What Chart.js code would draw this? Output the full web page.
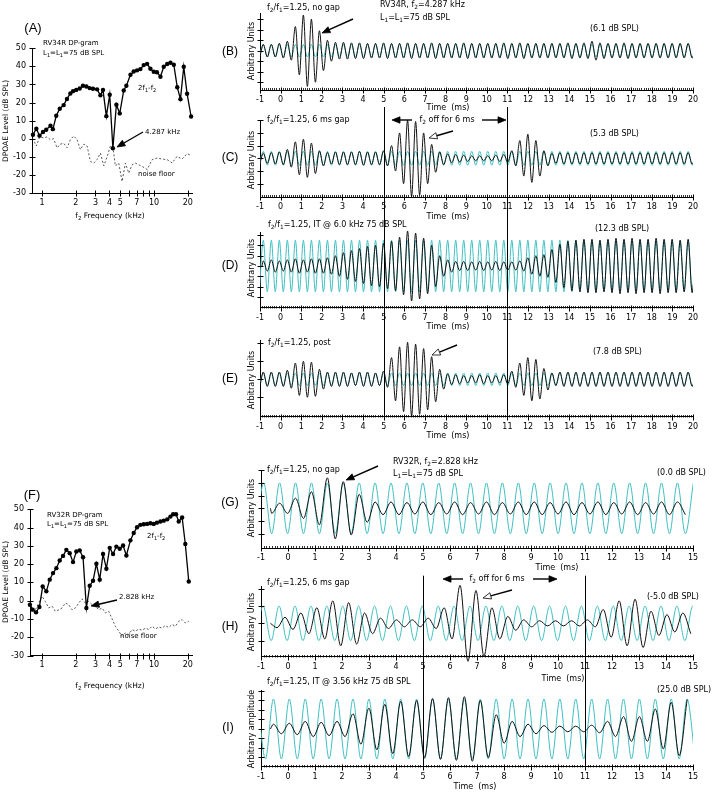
<!DOCTYPE html>
<html>
<head>
<meta charset="utf-8">
<script src="https://cdn.jsdelivr.net/npm/chart.js@4/dist/chart.umd.min.js"></script>
<style>
  body { margin: 0; background: #fff; }
  #wrap { position: relative; width: 721px; height: 792px; overflow: hidden; background: #fff; }
  #wrap canvas { position: absolute; }
</style>
</head>
<body>
<div id="wrap"></div>
<script>
// ---------- DP-gram data (kHz, dB SPL) ----------
const freqA = [0.83,0.89,0.95,1.02,1.09,1.19,1.25,1.34,1.44,1.56,1.67,1.79,1.89,2.02,2.17,2.32,2.49,2.66,2.85,3.10,3.32,3.50,3.75,4.02,4.29,4.61,4.94,5.36,5.66,6.16,6.58,7.05,7.55,8.08,8.66,9.27,9.93,10.6,11.4,12.2,13.1,14.0,15.0,16.1,17.2,18.4,19.7,21.4];
const levelA = [2.2,5.5,1.7,3.7,5.0,7.2,5.3,12.7,16.6,18.6,22.0,25.0,26.3,27.0,27.8,29.3,28.9,28.0,27.6,27.3,24.0,27.0,12.5,24.3,-5.3,18.8,14.0,26.7,29.3,35.4,37.2,37.8,38.5,40.7,41.4,38.7,37.0,36.8,34.3,39.8,41.3,42.0,40.9,28.5,21.9,39.8,24.9,12.3];
const noiseFreqA = [0.825,0.89,0.953,1.035,1.108,1.187,1.27,1.361,1.458,1.561,1.672,1.791,1.918,2.054,2.2,2.356,2.524,2.703,2.895,3.1,3.32,3.556,3.808,4.078,4.3,4.51,4.84,5.18,5.55,5.94,6.36,6.82,7.3,7.82,8.68,9.6,10.6,11.8,13.1,14.5,16.0,17.8,19.7,21.4];
const noiseA = [0.3,-4,1,0.5,1,-0.5,0,-5,-3,-2.5,-5,-0.5,1.5,-0.5,-6,-3,-4,-12.5,-13.5,-11.5,-8,-15,-10,-4,-5,-15,-13.5,-23.6,-13.5,-19,-14.4,-13.5,-14.4,-15.3,-17,-11.6,-10.7,-11.2,-11.6,-13.4,-9.8,-11.2,-8.3,-9.2];

const freqF = [0.78,0.825,0.884,0.947,1.014,1.093,1.171,1.254,1.343,1.438,1.54,1.649,1.766,1.891,2.025,2.169,2.323,2.488,2.664,2.853,3.056,3.272,3.504,3.753,4.019,4.304,4.609,4.936,5.29,5.66,6.15,6.58,7.05,7.55,8.08,8.66,9.27,9.93,10.6,11.4,12.2,13.1,14.0,14.8,15.7,16.6,17.8,19.0,20.4];
const levelF = [-2.2,-4.9,-6.4,-3.5,7.8,5.1,11.5,15.1,17.8,22,24.5,27.8,26,21.1,26.9,27.5,23.8,-4.0,8.2,10.9,20.2,11.5,25.5,17.5,28.9,25.5,29.6,28.4,30.2,24.7,33,37,40.2,41.5,41.8,42,42.4,42,42.7,43.3,43.8,44.5,46,47.3,47.3,43.3,45.5,31,10.5];
const noiseFreqF = [0.78,0.814,0.872,0.934,1.0,1.071,1.147,1.228,1.315,1.409,1.509,1.616,1.73,1.853,1.985,2.126,2.277,2.438,2.611,2.797,2.995,3.208,3.436,3.68,3.94,4.22,4.51,4.84,5.18,5.55,5.94,6.36,6.82,7.3,7.82,8.37,8.97,9.6,10.3,11.0,11.8,12.6,13.5,14.5,15.5,16.6,17.8,19.0,20.4];
const noiseF = [-2.2,-4,-5,-1.3,2.4,-0.4,-4,-3,-5.8,-5,-4,-1.3,-2.2,-5,-4,-1.3,1,-1.3,-0.4,-2.2,-3,-5,-4,-6.7,-5.8,-10,-14,-16.7,-19.5,-17.6,-18.5,-15.8,-16.7,-15.5,-16.2,-15,-15.8,-14,-15.5,-14.4,-15,-13.6,-14.7,-13,-14,-11.3,-10.4,-12.2,-11.3];

const freqTicks = [1,2,3,4,5,6,7,8,9,10,20];
const freqLabels = ['1','2','3','4','5','','7','','','10','20'];
const levelTicks = [-30,-20,-10,0,10,20,30,40,50];

// ---------- waveform data ----------
// 2f1-f2 frequency (kHz) from f2 and the f2/f1 ratio
const ratio = 1.25;
const f2RV34R = 4.287;
const f2RV32R = 2.828;
// black trace: amplitude of each 2f1-f2 cycle (arbitrary units)
const ampB = [0.6,0.6,0.7,0.9,2.3,3.4,3.0,1.9,1.0,0.8, 0.8,0.75,0.75,0.7,0.7,0.75,0.7,0.7,0.75,0.7, 0.7,0.75,0.7,0.7,0.7,0.75,0.7,0.7,0.7,0.7, 0.75,0.7,0.75,0.7,0.7,0.7,0.7,0.7,0.75,0.7, 0.75,0.9,0.75,0.7,0.7,0.75,0.7,0.7,0.7,0.7, 0.7,0.7,0.7,0.7];
const ampC = [0.4,0.45,0.5,0.7,1.3,1.5,1.2,0.6,0.45,0.5, 0.5,0.5,0.55,0.5,0.5,0.6,1.0,2.0,3.0,2.9, 2.0,1.1,0.5,0.35,0.3,0.25,0.2,0.2,0.2,0.25, 0.3,0.6,1.4,1.9,1.4,0.6,0.4,0.45,0.45,0.45, 0.45,0.45,0.45,0.45,0.45,0.45,0.45,0.45,0.45,0.45, 0.45,0.45,0.45,0.45];
const ampD = [0.5,0.6,0.5,0.6,0.7,0.6,0.7,0.7,0.8,1.0, 1.3,1.5,1.7,1.9,2.0,2.2,2.4,2.8,3.4,3.2, 2.7,2.0,1.0,0.6,0.45,0.45,0.4,0.45,0.4,0.45, 0.4,0.4,0.5,0.8,1.0,1.1,1.6,2.1,2.4,2.5, 2.6,2.6,2.5,2.6,2.7,2.6,2.7,2.6,2.6,2.7, 2.6,2.6,2.5,2.6];
const ampE = [0.4,0.4,0.4,0.5,0.9,1.0,0.95,0.55,0.4,0.4, 0.4,0.35,0.4,0.4,0.35,0.45,1.2,1.8,2.05,1.95, 1.7,1.25,0.55,0.3,0.25,0.2,0.2,0.25,0.2,0.2, 0.25,0.45,0.9,1.2,1.1,0.6,0.35,0.4,0.4,0.4, 0.4,0.4,0.4,0.4,0.4,0.4,0.4,0.4,0.4,0.4, 0.4,0.4,0.4,0.4];
const ampG = [0.4,0.4,0.8,1.3,2.4,2.1,1.1,0.5,0.5,0.45, 0.5,0.45,0.5,0.45,0.5,0.45,0.5,0.5,0.45,0.5, 0.45,0.5,0.45,0.5,0.45,0.5,0.5];
const ampH = [0.25,0.35,0.6,0.9,1.3,1.2,0.6,0.3,0.2,0.2, 0.3,0.9,2.2,1.9,0.9,0.4,0.2,0.15,0.15,0.15, 0.2,0.8,1.3,1.4,0.7,0.5,0.6];
const ampI = [0.5,0.6,0.8,0.7,0.8,1.6,2.2,2.6,2.9,3.0, 3.2,3.3,3.4,3.0,1.5,0.8,0.5,0.35,0.3,0.3, 0.4,0.8,1.3,1.3,2.1,2.8,3.1];
// cyan reference tone amplitude
const cyanB = 0.6, cyanC = 0.55, cyanD = 2.5, cyanE = 0.35, cyanG = 2.0, cyanH = 1.0, cyanI = 3.15;
// time of the first 2f1-f2 peak (ms)
const phaseRV34R = -0.84, phaseG = -0.9, phaseH = -0.92, phaseI = -0.54;
const gapMarks = [5, 11];

const FONT = '"DejaVu Sans", Verdana, sans-serif';
const LFONT = '"Liberation Sans", Arial, sans-serif';
const CYAN = '#3fbfc2';
const XH = 18;

function fdp(f2) { return 2 * f2 / ratio - f2; }

// extremes of each half cycle; the line is smoothed by Chart.js (monotone)
function halfCycles(amp, t0, half, from, to) {
  const pts = [];
  const j0 = Math.ceil((from - t0) / half), j1 = Math.floor((to - t0) / half);
  for (let j = j0; j <= j1; j++) {
    let a = amp;
    if (Array.isArray(amp)) a = amp[Math.min(amp.length - 1, Math.max(0, Math.floor(j / 2)))];
    pts.push({ x: t0 + j * half, y: (j % 2 === 0 ? 1 : -1) * a });
  }
  return pts;
}

function richText(ctx, s, x, y, size, align, family) {
  const segs = [];
  for (let i = 0; i < s.length; i++) {
    if (s[i] === '_' && i + 1 < s.length) { segs.push({ t: s[i + 1], sub: true }); i++; }
    else if (segs.length && !segs[segs.length - 1].sub) segs[segs.length - 1].t += s[i];
    else segs.push({ t: s[i], sub: false });
  }
  const big = size + 'px ' + family, small = (size * 0.72).toFixed(1) + 'px ' + family;
  let w = 0;
  segs.forEach(g => { ctx.font = g.sub ? small : big; g.w = ctx.measureText(g.t).width; w += g.w; });
  let cx = align === 'center' ? x - w / 2 : align === 'right' ? x - w : x;
  ctx.textBaseline = 'middle';
  ctx.textAlign = 'left';
  segs.forEach(g => {
    ctx.font = g.sub ? small : big;
    ctx.fillText(g.t, cx, y + (g.sub ? size * 0.32 : 0));
    cx += g.w;
  });
}

function arrow(ctx, x1, y1, x2, y2, open) {
  const ang = Math.atan2(y2 - y1, x2 - x1), hl = 8, hw = 3.2;
  const bx = x2 - hl * Math.cos(ang), by = y2 - hl * Math.sin(ang);
  ctx.strokeStyle = '#000';
  ctx.lineWidth = 1.4;
  ctx.beginPath(); ctx.moveTo(x1, y1); ctx.lineTo(bx, by); ctx.stroke();
  ctx.beginPath();
  ctx.moveTo(x2, y2);
  ctx.lineTo(bx + hw * Math.sin(ang), by - hw * Math.cos(ang));
  ctx.lineTo(bx - hw * Math.sin(ang), by + hw * Math.cos(ang));
  ctx.closePath();
  ctx.fillStyle = open ? '#fff' : '#000';
  ctx.fill();
  ctx.lineWidth = 0.8;
  ctx.stroke();
}

// axis ticks, gap lines, labels and arrows
const decor = {
  id: 'decor',
  afterDraw(chart, args, o) {
    const ctx = chart.ctx, xs = chart.scales.x, ys = chart.scales.y, a = chart.chartArea;
    ctx.save();
    ctx.strokeStyle = '#000';
    ctx.lineWidth = 1;
    const seg = (x1, y1, x2, y2) => { ctx.beginPath(); ctx.moveTo(x1, y1); ctx.lineTo(x2, y2); ctx.stroke(); };
    const L = Math.round(a.left) + 0.5, B = Math.round(a.bottom) + 0.5;
    (o.yTicks || []).forEach(v => {
      const y = Math.round(ys.getPixelForValue(v)) + 0.5;
      seg(L - 3, y, L + 3, y);
    });
    (o.xTicks || []).forEach(v => {
      const x = Math.round(xs.getPixelForValue(v)) + 0.5;
      seg(x, B - 3, x, B + 3);
    });
    if (o.xMinor) {
      ctx.lineWidth = 0.8;
      for (let i = o.xMinor.from; i <= o.xMinor.to; i++) {
        const x = Math.round(xs.getPixelForValue(i / 10)) + 0.5;
        seg(x, B - 2.5, x, B);
      }
      ctx.lineWidth = 1;
    }
    if (o.vlines) {
      o.vlines.values.forEach(v => {
        const x = Math.round(xs.getPixelForValue(v)) + 0.5;
        seg(x, o.vlines.top - o.oy, x, o.vlines.bottom - o.oy);
      });
    }
    ctx.fillStyle = '#000';
    (o.texts || []).forEach(t => {
      const x = t.x - o.ox, y = t.y - o.oy;
      if (t.rot) {
        ctx.save(); ctx.translate(x, y); ctx.rotate(-Math.PI / 2);
        richText(ctx, t.s, 0, 0, t.size || 8, 'center', t.font || FONT);
        ctx.restore();
      } else {
        richText(ctx, t.s, x, y, t.size || 8, t.align || 'left', t.font || FONT);
      }
    });
    (o.arrows || []).forEach(r => arrow(ctx, r[0] - o.ox, r[1] - o.oy, r[2] - o.ox, r[3] - o.oy, r[4]));
    ctx.restore();
  }
};

function addCanvas(left, top, w, h) {
  const c = document.createElement('canvas');
  c.width = w; c.height = h;
  c.style.left = left + 'px'; c.style.top = top + 'px';
  c.style.width = w + 'px'; c.style.height = h + 'px';
  document.getElementById('wrap').appendChild(c);
  return c;
}

function dpPanel(p) {
  const left = 0, w = 200, h = 225;
  const c = addCanvas(left, p.top, w, h);
  new Chart(c, {
    type: 'line',
    data: {
      datasets: [
        { data: p.freq.map((f, i) => ({ x: f, y: p.level[i] })), borderColor: '#000', borderWidth: 1.3,
          pointRadius: 2.2, pointBackgroundColor: '#000', pointBorderWidth: 0, clip: false },
        { data: p.nFreq.map((f, i) => ({ x: f, y: p.noise[i] })), borderColor: '#444', borderWidth: 0.9,
          borderDash: [2, 2], pointRadius: 0, clip: false }
      ]
    },
    options: {
      responsive: false, animation: false, events: [],
      layout: { padding: { left: 0, right: w - 192, top: p.areaTop - p.top, bottom: p.top + h - p.areaBottom - XH } },
      scales: {
        x: {
          type: 'logarithmic', min: p.xMin, max: 21.8,
          afterFit: s => { s.height = XH; },
          afterBuildTicks: s => { s.ticks = freqTicks.map(v => ({ value: v })); },
          grid: { display: false, drawTicks: false },
          border: { display: true, color: '#000', width: 1 },
          ticks: { autoSkip: false, maxRotation: 0, padding: 5, color: '#000', font: { family: FONT, size: 8 },
                   callback: (v, i) => freqLabels[i] }
        },
        y: {
          min: -30, max: 50,
          afterFit: s => { s.width = p.areaLeft; },
          grid: { display: false, drawTicks: false },
          border: { display: true, color: '#000', width: 1 },
          ticks: { stepSize: 10, padding: 6, color: '#000', font: { family: FONT, size: 8 } }
        }
      },
      plugins: {
        legend: { display: false }, tooltip: { enabled: false },
        decor: { ox: left, oy: p.top, yTicks: levelTicks, xTicks: freqTicks, texts: p.texts, arrows: p.arrows }
      }
    },
    plugins: [decor]
  });
}

function wavePanel(p) {
  const left = 180, w = 541;
  const c = addCanvas(left, p.top, w, p.h);
  const half = 0.5 / p.f;
  const clip = { left: 0, right: 0, top: false, bottom: false };
  const cyan = halfCycles(p.cyan, p.phase, half, p.xMin - half, p.xMax + half);
  const black = halfCycles(p.amp, p.phase + (p.shift || 0), half, p.from, p.to);
  if (p.from > p.xMin) black.unshift({ x: p.from, y: 0 });
  const xTicks = [];
  for (let v = p.xMin; v <= p.xMax; v++) xTicks.push(v);
  new Chart(c, {
    type: 'line',
    data: {
      datasets: [
        { data: black, borderColor: '#111', borderWidth: 1, pointRadius: 0, cubicInterpolationMode: 'monotone', clip: clip },
        { data: cyan, borderColor: CYAN, borderWidth: 1, pointRadius: 0, cubicInterpolationMode: 'monotone', clip: clip }
      ]
    },
    options: {
      responsive: false, animation: false, events: [],
      layout: { padding: { left: p.areaLeft - left, right: left + w - 693, top: p.areaTop - p.top, bottom: p.top + p.h - p.areaBottom - XH } },
      scales: {
        x: {
          type: 'linear', min: p.xMin, max: p.xMax,
          afterFit: s => { s.height = XH; },
          grid: { display: false, drawTicks: false },
          border: { display: true, color: '#000', width: 1 },
          ticks: { stepSize: 1, autoSkip: false, maxRotation: 0, padding: 5, color: '#000',
                   font: { family: FONT, size: 8 }, callback: v => String(v) }
        },
        y: {
          min: p.yMin, max: p.yMax,
          afterFit: s => { s.width = 0; },
          grid: { display: false, drawTicks: false },
          border: { display: true, color: '#000', width: 1 },
          ticks: { display: false }
        }
      },
      plugins: {
        legend: { display: false }, tooltip: { enabled: false },
        decor: { ox: left, oy: p.top, yTicks: p.yTicks, xTicks: xTicks,
                 xMinor: { from: p.xMin * 10, to: p.xMax * 10 },
                 vlines: p.vlines, texts: p.texts, arrows: p.arrows }
      }
    },
    plugins: [decor]
  });
}

// ---------- DP-grams ----------
dpPanel({
  top: 0, areaLeft: 32, areaTop: 48.3, areaBottom: 193, xMin: 0.814,
  freq: freqA, level: levelA, nFreq: noiseFreqA, noise: noiseA,
  texts: [
    { s: '(A)', x: 33, y: 28, size: 13, align: 'center', font: LFONT },
    { s: 'RV34R DP-gram', x: 43, y: 43, size: 7 },
    { s: 'L_1=L_1=75 dB SPL', x: 43, y: 53, size: 7 },
    { s: '2f_1-f_2', x: 138, y: 88, size: 7 },
    { s: '4.287 kHz', x: 145, y: 132, size: 7 },
    { s: 'noise floor', x: 138, y: 174, size: 7 },
    { s: 'DPOAE Level (dB SPL)', x: 6, y: 121, size: 7.5, rot: true },
    { s: 'f_2 Frequency (kHz)', x: 110, y: 216, size: 7.5, align: 'center' }
  ],
  arrows: [[143, 132, 117, 147, false]]
});
dpPanel({
  top: 470, areaLeft: 30, areaTop: 509.3, areaBottom: 655.5, xMin: 0.781,
  freq: freqF, level: levelF, nFreq: noiseFreqF, noise: noiseF,
  texts: [
    { s: '(F)', x: 32, y: 495, size: 13, align: 'center', font: LFONT },
    { s: 'RV32R DP-gram', x: 47, y: 515, size: 7 },
    { s: 'L_1=L_1=75 dB SPL', x: 47, y: 524, size: 7 },
    { s: '2f_1-f_2', x: 147, y: 536, size: 7 },
    { s: '2.828 kHz', x: 119, y: 597, size: 7 },
    { s: 'noise floor', x: 120, y: 636, size: 7 },
    { s: 'DPOAE Level (dB SPL)', x: 6, y: 582, size: 7.5, rot: true },
    { s: 'f_2 Frequency (kHz)', x: 110, y: 686, size: 7.5, align: 'center' }
  ],
  arrows: [[117, 600, 91, 606, false]]
});

// ---------- RV34R waveforms ----------
const fA = fdp(f2RV34R);
wavePanel({
  top: 0, h: 116, areaLeft: 260, areaTop: 13, areaBottom: 90, xMin: -1, xMax: 20, yMin: -3.74, yMax: 3.59,
  yTicks: [-3,-2,-1,0,1,2,3], f: fA, phase: phaseRV34R, amp: ampB, cyan: cyanB, from: -1.3, to: 20.3,
  texts: [
    { s: '(B)', x: 230, y: 52, size: 12, align: 'center', font: LFONT },
    { s: 'f_2/f_1=1.25, no gap', x: 267, y: 8 },
    { s: 'RV34R, f_2=4.287 kHz', x: 380, y: 5 },
    { s: 'L_1=L_1=75 dB SPL', x: 380, y: 18 },
    { s: '(6.1 dB SPL)', x: 590, y: 29 },
    { s: 'Arbitrary Units', x: 252, y: 51, rot: true },
    { s: 'Time  (ms)', x: 448, y: 108, align: 'center' }
  ],
  arrows: [[353, 19, 322, 33, false]]
});
wavePanel({
  top: 100, h: 124, areaLeft: 260, areaTop: 120, areaBottom: 197, xMin: -1, xMax: 20, yMin: -3.05, yMax: 3.02,
  yTicks: [-2,-1,0,1,2,3], f: fA, phase: phaseRV34R, amp: ampC, cyan: cyanC, from: -1.3, to: 20.3,
  vlines: { values: gapMarks, top: 107, bottom: 224 },
  texts: [
    { s: '(C)', x: 230, y: 158, size: 12, align: 'center', font: LFONT },
    { s: 'f_2/f_1=1.25, 6 ms gap', x: 267, y: 120 },
    { s: 'f_2 off for 6 ms', x: 447, y: 120, align: 'center' },
    { s: '(5.3 dB SPL)', x: 590, y: 134 },
    { s: 'Arbitrary Units', x: 252, y: 160, rot: true },
    { s: 'Time  (ms)', x: 448, y: 217, align: 'center' }
  ],
  arrows: [[412, 120, 392, 120, false], [482, 120, 506, 120, false], [453, 131, 429, 138, true]]
});
wavePanel({
  top: 208, h: 126, areaLeft: 260, areaTop: 232, areaBottom: 307.7, xMin: -1, xMax: 20, yMin: -4.05, yMax: 3.3,
  yTicks: [-3,-2,-1,0,1,2,3], f: fA, phase: phaseRV34R, amp: ampD, cyan: cyanD, from: -0.9, to: 20.3,
  vlines: { values: gapMarks, top: 208, bottom: 334 },
  texts: [
    { s: '(D)', x: 230, y: 266, size: 12, align: 'center', font: LFONT },
    { s: 'f_2/f_1=1.25, IT @ 6.0 kHz 75 dB SPL', x: 268, y: 225 },
    { s: '(12.3 dB SPL)', x: 595, y: 229 },
    { s: 'Arbitrary Units', x: 252, y: 268, rot: true },
    { s: 'Time  (ms)', x: 448, y: 327, align: 'center' }
  ]
});
wavePanel({
  top: 322, h: 121, areaLeft: 260, areaTop: 340.7, areaBottom: 416.7, xMin: -1, xMax: 20, yMin: -2.08, yMax: 2.14,
  yTicks: [-1,0,1,2], f: fA, phase: phaseRV34R, amp: ampE, cyan: cyanE, from: -1.3, to: 20.3,
  vlines: { values: gapMarks, top: 322, bottom: 416.7 },
  texts: [
    { s: '(E)', x: 230, y: 379, size: 12, align: 'center', font: LFONT },
    { s: 'f_2/f_1=1.25, post', x: 268, y: 343 },
    { s: '(7.8 dB SPL)', x: 593, y: 352 },
    { s: 'Arbitrary Units', x: 252, y: 380, rot: true },
    { s: 'Time  (ms)', x: 448, y: 436, align: 'center' }
  ],
  arrows: [[457, 345, 432, 355, true]]
});

// ---------- RV32R waveforms ----------
const fB = fdp(f2RV32R);
wavePanel({
  top: 448, h: 127, areaLeft: 261, areaTop: 470.7, areaBottom: 548.3, xMin: -1, xMax: 15, yMin: -3.15, yMax: 2.96,
  yTicks: [-2,-1,0,1,2,3], f: fB, phase: phaseG, amp: ampG, cyan: cyanG, from: -0.65, to: 14.95,
  texts: [
    { s: '(G)', x: 230, y: 503, size: 12, align: 'center', font: LFONT },
    { s: 'f_2/f_1=1.25, no gap', x: 267, y: 470 },
    { s: 'RV32R, f_2=2.828 kHz', x: 393, y: 462 },
    { s: 'L_1=L_1=75 dB SPL', x: 393, y: 474 },
    { s: '(0.0 dB SPL)', x: 657, y: 473 },
    { s: 'Arbitrary Units', x: 252, y: 508, rot: true },
    { s: 'Time  (ms)', x: 557, y: 568, align: 'center' }
  ],
  arrows: [[378, 466, 346, 480, false]]
});
wavePanel({
  top: 570, h: 113, areaLeft: 261, areaTop: 586.7, areaBottom: 656.7, xMin: -1, xMax: 15, yMin: -1.93, yMax: 2.12,
  yTicks: [-1,0,1,2], f: fB, phase: phaseH, shift: 0.22, amp: ampH, cyan: cyanH, from: -0.65, to: 14.95,
  vlines: { values: gapMarks, top: 575.7, bottom: 683 },
  texts: [
    { s: '(H)', x: 230, y: 627, size: 12, align: 'center', font: LFONT },
    { s: 'f_2/f_1=1.25, 6 ms gap', x: 267, y: 583 },
    { s: 'f_2 off for 6 ms', x: 497, y: 579, align: 'center' },
    { s: '(-5.0 dB SPL)', x: 647, y: 597 },
    { s: 'Arbitrary Units', x: 252, y: 622, rot: true },
    { s: 'Time  (ms)', x: 563, y: 679, align: 'center' }
  ],
  arrows: [[463, 579, 443, 579, false], [533, 579, 557, 579, false], [512, 590, 483, 598, true]]
});
wavePanel({
  top: 674, h: 118, areaLeft: 261, areaTop: 690, areaBottom: 766.7, xMin: -1, xMax: 15, yMin: -3.97, yMax: 4.1,
  yTicks: [-3,-2,-1,0,1,2,3,4], f: fB, phase: phaseI, amp: ampI, cyan: cyanI, from: -0.65, to: 14.95,
  vlines: { values: gapMarks, top: 674, bottom: 766.7 },
  texts: [
    { s: '(I)', x: 228, y: 728, size: 12, align: 'center', font: LFONT },
    { s: 'f_2/f_1=1.25, IT @ 3.56 kHz 75 dB SPL', x: 267, y: 682 },
    { s: '(25.0 dB SPL)', x: 657, y: 690 },
    { s: 'Arbitrary amplitude', x: 252, y: 729, rot: true },
    { s: 'Time  (ms)', x: 475, y: 787, align: 'center' }
  ]
});
</script>
</body>
</html>
